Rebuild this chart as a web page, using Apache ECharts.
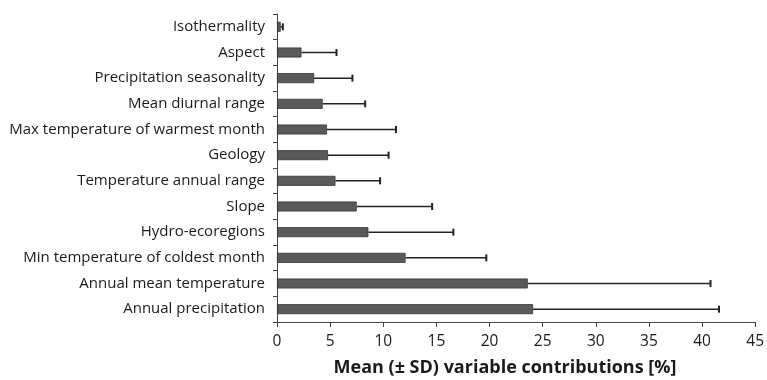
<!DOCTYPE html>
<html>
<head>
<meta charset="utf-8">
<script src="https://cdn.jsdelivr.net/npm/echarts@6/dist/echarts.min.js"></script>
<style>html,body{margin:0;padding:0;background:#fff}#c{width:767px;height:380px}</style>
</head>
<body>
<div id="c"></div>
<script>
var categories = ['Annual precipitation','Annual mean temperature','Min temperature of coldest month','Hydro-ecoregions','Slope','Temperature annual range','Geology','Max temperature of warmest month','Mean diurnal range','Precipitation seasonality','Aspect','Isothermality'];
var means = [24.1, 23.6, 12.1, 8.6, 7.5, 5.5, 4.8, 4.7, 4.3, 3.5, 2.3, 0.35];
var sds = [17.5, 17.2, 7.6, 8.0, 7.1, 4.2, 5.7, 6.5, 4.0, 3.6, 3.3, 0.2];
var xTicks = [0,5,10,15,20,25,30,35,40,45];
var axisTitle = 'Mean (\u00b1 SD) variable contributions [%]';

var FONT = 'Open Sans';
var errData = means.map(function(m,i){ return [i, m, m + sds[i]]; });
var chart = echarts.init(document.getElementById('c'));
chart.setOption({
  animation: false,
  title: {
    text: axisTitle, left: 500, top: 354, textAlign: 'center',
    textStyle: {color: '#1a1a1a', fontSize: 18, fontWeight: 'bold', fontFamily: FONT}
  },
  grid: {left: 277, right: 10, top: 14, bottom: 58},
  xAxis: {
    type: 'value', min: xTicks[0], max: xTicks[xTicks.length-1], interval: 5,
    splitLine: {show: false},
    axisLine: {show: true, lineStyle: {color: '#444', width: 1}},
    axisTick: {show: true, length: 5, lineStyle: {color: '#444'}},
    axisLabel: {color: '#1a1a1a', fontSize: 15.5, fontFamily: FONT, margin: 12}
  },
  yAxis: {
    type: 'category', data: categories,
    axisLine: {show: true, lineStyle: {color: '#444', width: 1}},
    axisTick: {show: true, length: 4, lineStyle: {color: '#444'}},
    axisLabel: {color: '#1a1a1a', fontSize: 15, fontFamily: FONT, margin: 12}
  },
  series: [
    {
      type: 'bar', data: means, barWidth: 10,
      itemStyle: {color: '#5a5a5a', borderColor: '#333', borderWidth: 0.8},
      z: 2
    },
    {
      type: 'custom', data: errData, z: 3,
      encode: {x: [1,2], y: 0},
      renderItem: function(params, api){
        var c = api.value(0);
        var p1 = api.coord([api.value(1), c]);
        var p2 = api.coord([api.value(2), c]);
        var h = 7;
        var st = {stroke: '#222', lineWidth: 1.5};
        return {type: 'group', children: [
          {type: 'line', shape: {x1: p1[0], y1: p1[1], x2: p2[0], y2: p2[1]}, style: st},
          {type: 'line', shape: {x1: p2[0], y1: p2[1]-h/2, x2: p2[0], y2: p2[1]+h/2}, style: {stroke: '#222', lineWidth: 2}}
        ]};
      }
    }
  ]
});
</script>
</body>
</html>
